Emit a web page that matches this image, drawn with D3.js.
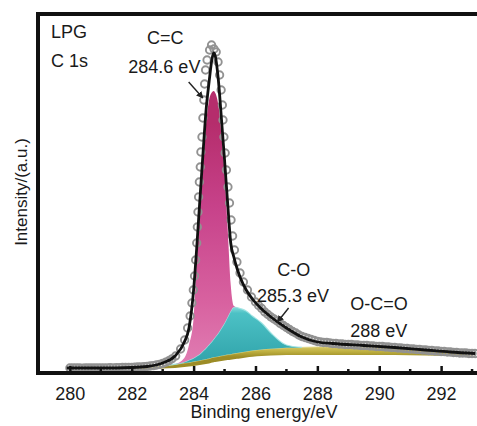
<!DOCTYPE html>
<html>
<head>
<meta charset="utf-8">
<script src="https://cdn.jsdelivr.net/npm/d3@7"></script>
<style>
  html, body { margin: 0; padding: 0; background: #fff; }
  svg { display: block; }
  text { font-family: "Liberation Sans", Arial, Helvetica, sans-serif; fill: #1a1a1a; }
</style>
</head>
<body>
<svg id="chart" width="477" height="426"></svg>
<script>
// C 1s XPS spectrum of LPG with peak deconvolution

// Fit grid (binding energy, eV)
const fitEnergy = [279.9, 281.0, 282.0, 282.5, 283.0, 283.4, 283.7, 283.85, 284.0, 284.1,
  284.2, 284.3, 284.4, 284.5, 284.6, 284.65, 284.7, 284.8, 284.9, 285.0,
  285.1, 285.2, 285.3, 285.4, 285.5, 285.7, 285.9, 286.2, 286.5, 287.0,
  287.5, 288.0, 288.5, 289.5, 290.5, 291.5, 292.3, 293.1];

// Overall fitted envelope
const envelope = [5, 5, 5.5, 6.5, 10, 17, 31, 45, 83, 125,
  172, 218, 262, 291, 315, 320, 317, 293, 254, 213,
  170, 130, 116, 105, 96, 83, 74, 64, 56, 45,
  36, 31, 29.5, 27.5, 25.5, 23, 21, 19.5];

// Shirley background under the components
const background = [4, 4, 4, 4, 4.5, 5, 6, 6.5, 7, 7.5,
  8, 8.5, 9, 9.5, 10.5, 10.8, 11, 11.5, 12, 12.5,
  13, 13.3, 13.8, 14.2, 14.6, 15.5, 16.2, 17, 17.5, 18,
  18, 18, 18, 18, 18, 17.5, 17, 16.5];

// O-C=O component (288 eV)
const peakOCO = [0, 0, 0, 1, 2.5, 3.5, 4, 4, 4.5, 4.5,
  4.6, 4.7, 4.8, 4.9, 5, 5, 5, 5.1, 5.2, 5.3,
  5.4, 5.5, 5.6, 5.7, 5.8, 6, 6.2, 6.5, 6.8, 7.2,
  7.6, 8, 7.9, 7.3, 6.5, 5, 3.5, 0];

// C-O component (285.3 eV)
const peakCO = [0, 0, 0, 0, 0, 0.3, 1, 2.5, 3.5, 5,
  6.4, 8.8, 11.2, 14.1, 16.5, 18.2, 20, 23.4, 27.8, 32.2,
  37.6, 43.2, 46.6, 45.6, 44.1, 40.5, 34.6, 26.5, 15.7, 2.8,
  0, 0, 0, 0, 0, 0, 0, 0];

// C=C component (284.6 eV)
const peakCC = [0, 0, 0, 0, 0, 0, 4, 15, 40, 94,
  142, 186, 223, 244.5, 249, 248, 244, 228, 193, 150,
  89, 26, 1, 0, 0, 0, 0, 0, 0, 0,
  0, 0, 0, 0, 0, 0, 0, 0];

// Measured spectrum
const dataEnergy = [
  280.0, 280.1, 280.2, 280.3, 280.4, 280.5, 280.6, 280.7, 280.8, 280.9,
  281.0, 281.1, 281.2, 281.3, 281.4, 281.5, 281.6, 281.7, 281.8, 281.9,
  282.0, 282.1, 282.2, 282.3, 282.4, 282.5, 282.6, 282.7, 282.8, 282.9,
  283.0, 283.1, 283.2, 283.3,
  283.42, 283.58, 283.71, 283.806, 283.887, 283.945, 283.99, 284.03, 284.065, 284.10,
  284.12, 284.14, 284.16, 284.185, 284.215, 284.235, 284.27, 284.30, 284.33, 284.355,
  284.387, 284.435, 284.516, 284.58, 284.66, 284.73, 284.79, 284.84, 284.89, 284.93,
  284.95, 284.98, 285.02, 285.06, 285.11, 285.16, 285.21, 285.26, 285.32, 285.40,
  285.50, 285.61, 285.74, 285.87,
  286.0, 286.1, 286.2, 286.3, 286.4, 286.5, 286.6, 286.7, 286.8, 286.9,
  287.0, 287.1, 287.2, 287.3, 287.4, 287.5, 287.6, 287.7, 287.8, 287.9,
  288.0, 288.1, 288.2, 288.3, 288.4, 288.5, 288.6, 288.7, 288.8, 288.9,
  289.0, 289.1, 289.2, 289.3, 289.4, 289.5, 289.6, 289.7, 289.8, 289.9,
  290.0, 290.1, 290.2, 290.3, 290.4, 290.5, 290.6, 290.7, 290.8, 290.9,
  291.0, 291.1, 291.2, 291.3, 291.4, 291.5, 291.6, 291.7, 291.8, 291.9,
  292.0, 292.1, 292.2, 292.3, 292.4, 292.5, 292.6, 292.7, 292.8, 292.9,
  293.0, 293.1];
const dataCounts = [
  5, 5, 5.2, 5, 4.9, 5, 5.1, 5, 5, 5.2,
  5.1, 5, 5.2, 5.3, 5.2, 5.3, 5.4, 5.5, 5.5, 5.6,
  5.7, 5.8, 6, 6.1, 6.3, 6.6, 7, 7.4, 8, 8.7,
  9.6, 10.8, 12.3, 14.2,
  17, 24, 33, 45, 57, 70, 83, 97, 113, 130,
  146, 161, 176, 191, 206, 221, 236, 255, 273, 289,
  303, 313, 323, 328, 324, 321, 311, 298, 283, 268,
  253, 236, 220, 203, 186, 170, 153, 137, 123, 111,
  100, 91, 83, 76,
  71, 67.5, 64.5, 61, 58.5, 56, 54, 52, 49.5, 47.5,
  45.5, 43.5, 41.5, 40, 38, 36.5, 35.5, 34.5, 33.5, 32.5,
  31.5, 31, 30.5, 30.5, 30, 29.5, 29.5, 29, 29, 28.5,
  28.5, 28.5, 28, 28, 27.5, 27.5, 27.5, 27, 27, 26.5,
  26.5, 26.5, 26, 26, 25.5, 25.5, 25, 25, 24.5, 24.5,
  24, 24, 23.5, 23.5, 23, 23, 22.5, 22.5, 22, 22,
  21.5, 21.5, 21, 21, 20.5, 20.5, 20, 20, 20, 19.5,
  19.5, 19.5];

const xTicks = [280, 282, 284, 286, 288, 290, 292];
const xMinorTicks = [281, 283, 285, 287, 289, 291, 293];

// ---------------------------------------------------------------
const W = 477, H = 426;
const margin = { left: 38, right: 0, top: 14, bottom: 53 };
const svg = d3.select("#chart");

const x = d3.scaleLinear().domain([278.97, 293.16]).range([margin.left, W - margin.right]);
const y = d3.scaleLinear().domain([0, 359]).range([H - margin.bottom, margin.top]);

const defs = svg.append("defs");
function vGrad(id, stops, y1, y2) {
  const g = defs.append("linearGradient").attr("id", id)
    .attr("gradientUnits", "userSpaceOnUse")
    .attr("x1", 0).attr("x2", 0).attr("y1", y1).attr("y2", y2);
  stops.forEach(([o, c]) => g.append("stop").attr("offset", o).attr("stop-color", c));
}
vGrad("gPink", [[0, "#b52d6c"], [0.35, "#c7428a"], [0.75, "#d862a0"], [1, "#e07cb2"]], y(250), y(10));
vGrad("gCyan", [[0, "#86dada"], [0.12, "#4cc1c5"], [1, "#33a6ad"]], y(66), y(14));
vGrad("gOlive", [[0, "#d4c664"], [0.45, "#bfb040"], [1, "#9c8c26"]], y(26), y(16));

const plot = svg.append("g");

// stacked component layers
const rows = fitEnergy.map((e, i) => {
  const b = background[i];
  const o = b + peakOCO[i];
  const c = o + peakCO[i];
  const p = c + peakCC[i];
  return { e, b, o, c, p };
});

const curve = d3.curveMonotoneX;
const area = (lo, hi) => d3.area().curve(curve)
  .x(d => x(d.e)).y0(d => y(d[lo])).y1(d => y(d[hi]));
const topLine = (hi) => d3.line().curve(curve).x(d => x(d.e)).y(d => y(d[hi]));

const oliveRows = rows.filter(d => d.e >= 282.0);
plot.append("path").datum(oliveRows).attr("d", area("b", "o")).attr("fill", "url(#gOlive)");
plot.append("path").datum(oliveRows).attr("d", topLine("o"))
  .attr("fill", "none").attr("stroke", "#ddd27a").attr("stroke-width", 1).attr("opacity", 0.8);

const cyanRows = rows.filter(d => d.e >= 283.0 && d.e <= 287.5);
plot.append("path").datum(cyanRows).attr("d", area("o", "c")).attr("fill", "url(#gCyan)");
plot.append("path").datum(cyanRows).attr("d", topLine("c"))
  .attr("fill", "none").attr("stroke", "#9fe3e2").attr("stroke-width", 1.2).attr("opacity", 0.9);

const pinkRows = rows.filter(d => d.e >= 283.4 && d.e <= 285.4);
plot.append("path").datum(pinkRows).attr("d", area("c", "p")).attr("fill", "url(#gPink)");

// measured points
plot.append("g").selectAll("circle")
  .data(dataEnergy.map((e, i) => ({ e, v: dataCounts[i] })))
  .join("circle")
  .attr("cx", d => x(d.e)).attr("cy", d => y(d.v)).attr("r", 3.7)
  .attr("fill", "none").attr("stroke", "#929292").attr("stroke-width", 1.9);

// fitted envelope
plot.append("path")
  .datum(fitEnergy.map((e, i) => ({ e, v: envelope[i] })))
  .attr("d", d3.line().curve(curve).x(d => x(d.e)).y(d => y(d.v)))
  .attr("fill", "none").attr("stroke", "#111").attr("stroke-width", 2.8)
  .attr("stroke-linejoin", "round");

// frame: left, top, bottom
const frame = svg.append("g").attr("stroke", "#111").attr("stroke-width", 4).attr("fill", "none");
frame.append("line").attr("x1", margin.left).attr("x2", margin.left).attr("y1", margin.top - 2).attr("y2", y(0) + 2);
frame.append("line").attr("x1", margin.left - 2).attr("x2", W).attr("y1", margin.top).attr("y2", margin.top);
frame.append("line").attr("x1", margin.left - 2).attr("x2", W).attr("y1", y(0)).attr("y2", y(0));

// x axis: inward ticks and labels
const axisG = svg.append("g").attr("transform", `translate(0,${y(0)})`);
axisG.call(d3.axisBottom(x).tickValues(xTicks).tickSizeInner(-7).tickSizeOuter(0).tickPadding(14))
  .call(g => g.select(".domain").remove())
  .call(g => g.selectAll(".tick line").attr("stroke", "#111").attr("stroke-width", 2.5))
  .call(g => g.selectAll(".tick text").attr("font-size", 18)
    .attr("font-family", "'Liberation Sans', Arial, sans-serif").attr("fill", "#1a1a1a"));
axisG.selectAll(".minor").data(xMinorTicks).join("line").attr("class", "minor")
  .attr("x1", d => x(d)).attr("x2", d => x(d)).attr("y1", 0).attr("y2", -4)
  .attr("stroke", "#111").attr("stroke-width", 2.5);

// axis titles
svg.append("text").attr("x", 264).attr("y", 418).attr("text-anchor", "middle")
  .attr("font-size", 18).text("Binding energy/eV");
svg.append("text").attr("transform", "translate(27,192) rotate(-90)").attr("text-anchor", "middle")
  .attr("font-size", 17).text("Intensity/(a.u.)");

// sample labels
svg.append("text").attr("x", 51).attr("y", 38).attr("font-size", 18).text("LPG");
svg.append("text").attr("x", 51).attr("y", 67).attr("font-size", 18).text("C 1s");

// peak annotations, placed in data coordinates (energy, intensity)
const peakNotes = [
  { lines: [["C=C", 283.08, 329, "middle"], ["284.6 eV", 281.89, 300, "start"]],
    from: [283.84, 291], to: [284.30, 275] },
  { lines: [["C-O", 286.70, 97, "start"], ["285.3 eV", 286.05, 71.5, "start"]],
    from: [287.07, 65], to: [286.71, 51] },
  { lines: [["O-C=O", 289.06, 63.5, "start"], ["288 eV", 289.06, 36, "start"]],
    from: null, to: null }
];

defs.append("marker").attr("id", "arrowHead").attr("viewBox", "0 0 10 10")
  .attr("refX", 9).attr("refY", 5).attr("markerWidth", 5).attr("markerHeight", 5)
  .attr("orient", "auto")
  .append("path").attr("d", "M0,0 L10,5 L0,10 z").attr("fill", "#222");

peakNotes.forEach(n => {
  n.lines.forEach(([t, e, v, anchor]) => {
    svg.append("text").attr("x", x(e)).attr("y", y(v))
      .attr("text-anchor", anchor).attr("font-size", 18).text(t);
  });
  if (n.from) {
    svg.append("line")
      .attr("x1", x(n.from[0])).attr("y1", y(n.from[1]))
      .attr("x2", x(n.to[0])).attr("y2", y(n.to[1]))
      .attr("stroke", "#222").attr("stroke-width", 1.4)
      .attr("marker-end", "url(#arrowHead)");
  }
});
</script>
</body>
</html>
